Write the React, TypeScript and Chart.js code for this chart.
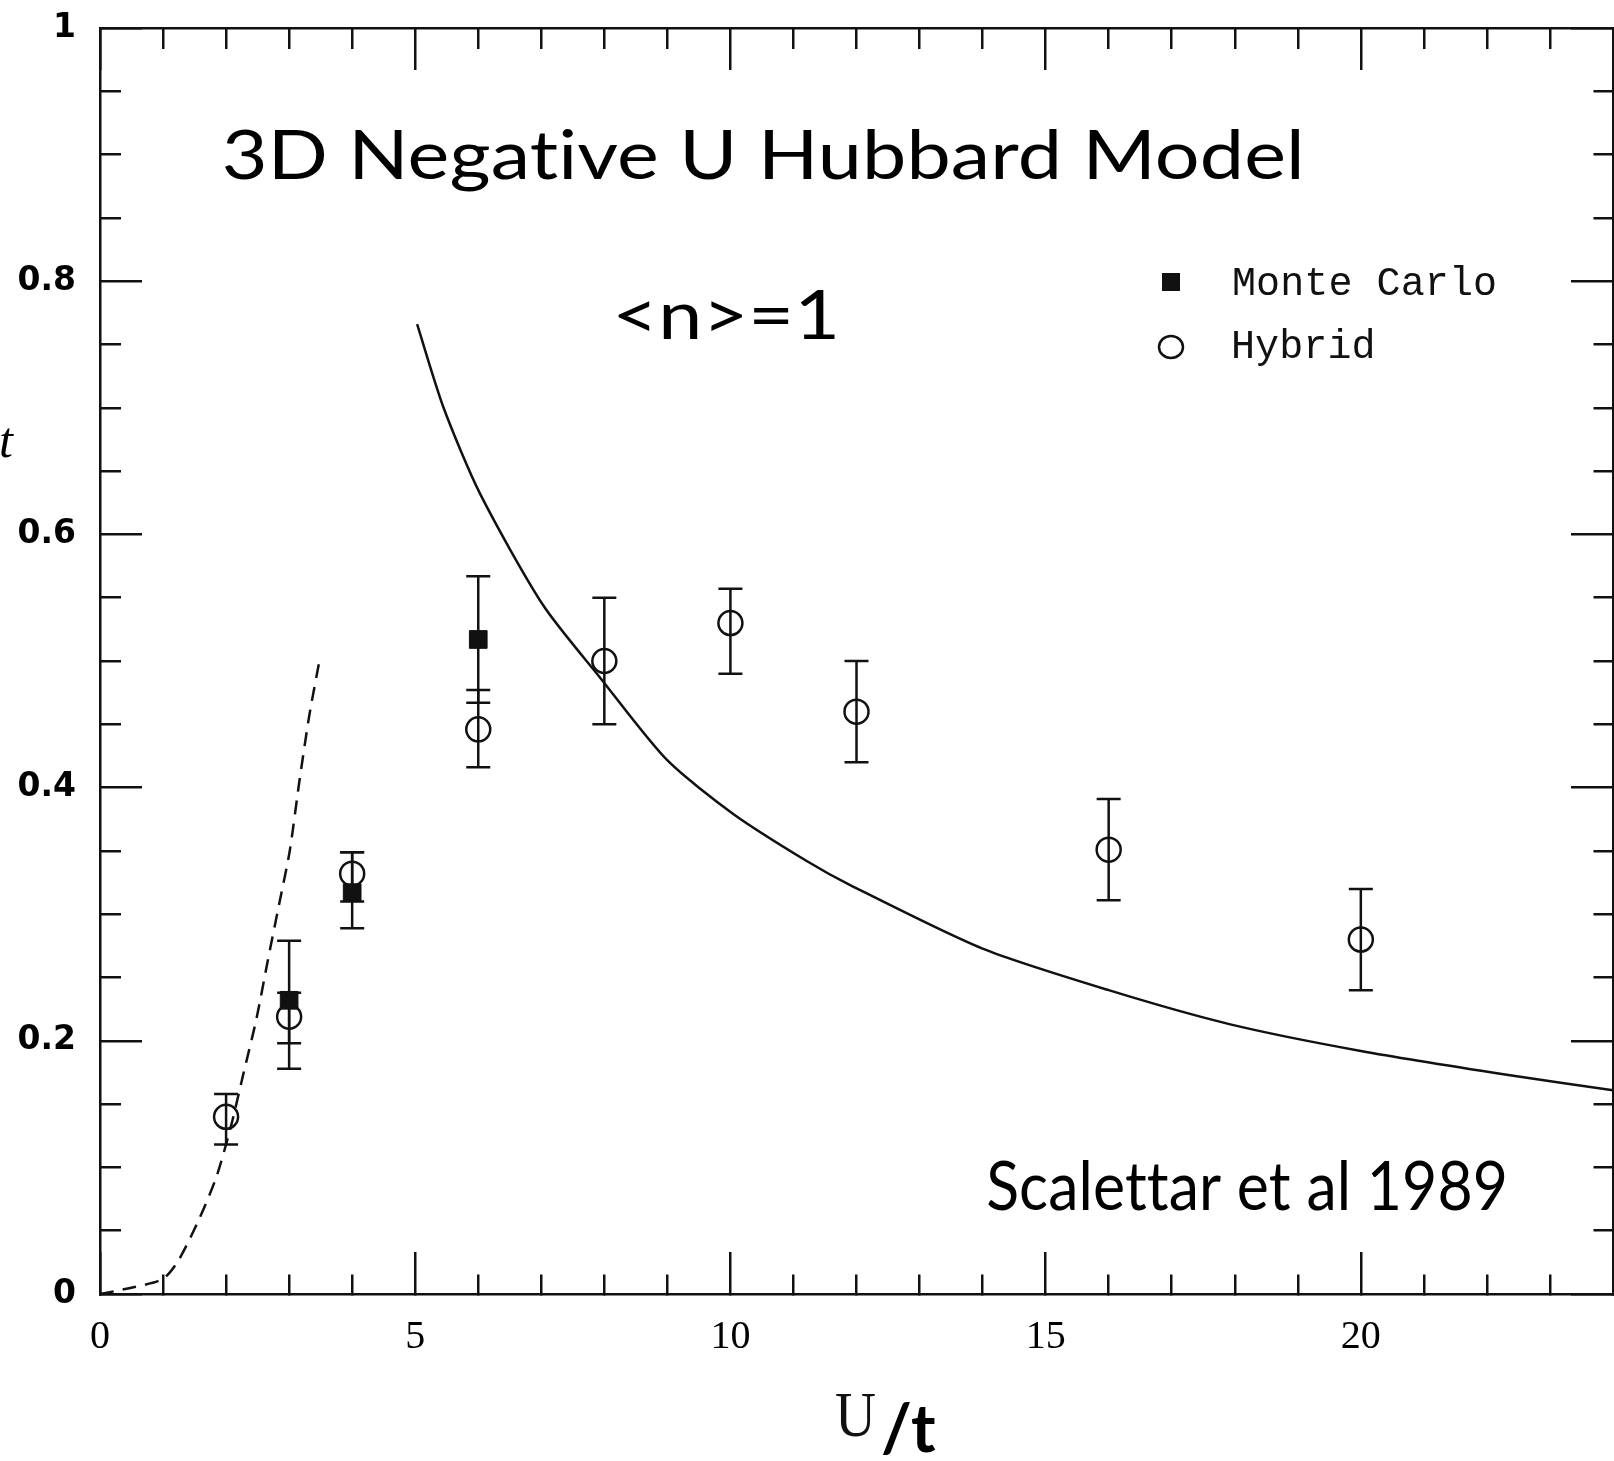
import { useEffect, useRef } from 'react';
import { Chart, registerables } from 'chart.js';

Chart.register(...registerables);

// Axis ranges and tick spacing
const U_MIN = 0;
const U_MAX = 24;
const TC_MIN = 0;
const TC_MAX = 1;
const uMinorStep = 1;
const tcMinorStep = 0.05;
const uTickLabels = [0, 5, 10, 15, 20];
const tcTickLabels = [0, 0.2, 0.4, 0.6, 0.8, 1];
const uMajorTicks = [0, 5, 10, 15, 20];
const tcMajorTicks = [0, 0.2, 0.4, 0.6, 0.8, 1];

// Hybrid simulation: U/t, Tc/t and the two ends of each error bar
const hybridU = [2, 3, 4, 6, 8, 10, 12, 16, 20];
const hybridTc = [0.14, 0.219, 0.332, 0.446, 0.5, 0.53, 0.46, 0.351, 0.28];
const hybridLow = [0.118, 0.178, 0.31, 0.416, 0.45, 0.49, 0.42, 0.311, 0.24];
const hybridHigh = [0.158, 0.238, 0.349, 0.477, 0.55, 0.557, 0.5, 0.391, 0.32];

// Determinant Monte Carlo
const monteCarloU = [3, 4, 6];
const monteCarloTc = [0.232, 0.317, 0.517];
const monteCarloLow = [0.198, 0.289, 0.467];
const monteCarloHigh = [0.279, 0.349, 0.567];

// Strong-coupling estimate (solid)
const strongU = [5.03, 5.45, 6.03, 7.03, 7.93, 8.99, 10.05, 11.21, 11.9, 13.99, 16.0, 17.93, 20.0, 22.34, 24.0];
const strongTc = [0.766, 0.7, 0.632, 0.544, 0.487, 0.422, 0.379, 0.342, 0.323, 0.273, 0.24, 0.213, 0.192, 0.173, 0.161];

// Weak-coupling estimate (dashed)
const weakU = [0, 0.5, 1.0, 1.25, 1.58, 1.85, 2.08, 2.27, 2.48, 2.66, 2.85, 3.01, 3.16, 3.32, 3.48];
const weakTc = [0, 0.005, 0.012, 0.027, 0.06, 0.093, 0.133, 0.173, 0.217, 0.263, 0.31, 0.35, 0.404, 0.457, 0.5];

const INK = '#111';
const MAJOR_LEN = 42;
const MINOR_LEN = 21;
// Ticks point into the plot; minor ticks keep only the part next to the frame.
const dashInnerFirst = [0, MAJOR_LEN - MINOR_LEN, MINOR_LEN, 200];
const dashFrameFirst = [MINOR_LEN, 200];

const near = (list: number[], v: number) => list.some((l) => Math.abs(l - v) < 1e-6);

const toPoints = (xs: number[], ys: number[]) => xs.map((x, i) => ({ x, y: ys[i] }));

const errorBars = {
  id: 'errorBars',
  beforeDatasetsDraw(chart: any) {
    const { ctx } = chart;
    chart.data.datasets.forEach((ds: any, i: number) => {
      if (!ds.errLow) return;
      const meta = chart.getDatasetMeta(i);
      const xs = chart.scales[meta.xAxisID];
      const ys = chart.scales[meta.yAxisID];
      ctx.save();
      ctx.strokeStyle = INK;
      ctx.lineWidth = 2.5;
      ds.data.forEach((p: any, j: number) => {
        const px = xs.getPixelForValue(p.x);
        const lo = ys.getPixelForValue(ds.errLow[j]);
        const hi = ys.getPixelForValue(ds.errHigh[j]);
        ctx.beginPath();
        ctx.moveTo(px, lo);
        ctx.lineTo(px, hi);
        ctx.moveTo(px - 12, lo);
        ctx.lineTo(px + 12, lo);
        ctx.moveTo(px - 12, hi);
        ctx.lineTo(px + 12, hi);
        ctx.stroke();
      });
      ctx.restore();
    });
  },
};

function inkText(ctx: CanvasRenderingContext2D, text: string, font: string, left: number, baseline: number, inkWidth?: number) {
  ctx.font = font;
  ctx.textAlign = 'left';
  ctx.textBaseline = 'alphabetic';
  const c = ctx as any;
  c.textRendering = 'optimizeSpeed';
  c.letterSpacing = '0.1px';
  const m = ctx.measureText(text);
  const w = m.actualBoundingBoxLeft + m.actualBoundingBoxRight;
  const s = inkWidth ? inkWidth / w : 1;
  ctx.save();
  ctx.translate(left, baseline);
  ctx.scale(s, 1);
  ctx.fillText(text, m.actualBoundingBoxLeft, 0);
  ctx.restore();
}

const annotations = {
  id: 'annotations',
  afterDraw(chart: any) {
    const ctx: CanvasRenderingContext2D = chart.ctx;
    ctx.save();
    ctx.fillStyle = '#000';
    inkText(ctx, '3D Negative U Hubbard Model', '68px Lato', 224, 179, 1076);
    inkText(ctx, '<n>=1', '68px Lato', 618, 339, 217);
    inkText(ctx, 'Scalettar et al 1989', '68px Lato', 988, 1210, 517);

    // axis titles
    ctx.fillStyle = INK;
    inkText(ctx, 'U', '64px "Liberation Serif"', 836, 1436, 39);
    ctx.fillStyle = '#000';
    inkText(ctx, '/t', 'bold 66px Lato', 882, 1452, 54);
    ctx.font = 'italic 50px "Liberation Serif"';
    ctx.textAlign = 'right';
    const mt = ctx.measureText('t');
    ctx.fillText('t', 14 - mt.actualBoundingBoxRight, 457);

    // legend
    const items = chart.data.datasets.filter((d: any) => d.inLegend);
    items.forEach((d: any, i: number) => {
      const cy = 282 + i * 63;
      ctx.fillStyle = INK;
      ctx.strokeStyle = INK;
      if (d.pointStyle === 'rect') {
        ctx.fillRect(1162, cy - 9, 18, 18);
      } else {
        ctx.lineWidth = 2.5;
        ctx.beginPath();
        ctx.ellipse(1171, cy + 2, 12, 11, 0, 0, Math.PI * 2);
        ctx.stroke();
      }
      inkText(ctx, d.label, '40px "Liberation Mono"', 1234, cy + 13);
    });
    ctx.restore();
  },
};

function frameScale(position: string, isX: boolean, withLabels: boolean) {
  const majors = isX ? uMajorTicks : tcMajorTicks;
  const labels = isX ? uTickLabels : tcTickLabels;
  const innerFirst = position === 'left' || position === 'top';
  return {
    type: 'linear',
    position,
    min: isX ? U_MIN : TC_MIN,
    max: isX ? U_MAX : TC_MAX,
    afterFit: (s: any) => {
      if (isX) s.height = position === 'bottom' ? 167 : 0;
      else s.width = position === 'left' ? 100 : 0;
      // labels sit inside the reserved band, so no extra room is asked of the layout
      s.paddingTop = 0;
      s.paddingBottom = 0;
      s.paddingLeft = 0;
      s.paddingRight = 0;
    },
    border: { display: true, color: INK, width: 2.5 },
    grid: {
      drawOnChartArea: false,
      drawTicks: true,
      tickLength: -MAJOR_LEN,
      lineWidth: 2.5,
      tickWidth: 2.5,
      tickColor: INK,
      tickBorderDash: (c: any) =>
        c.tick && near(majors, c.tick.value) ? [] : innerFirst ? dashInnerFirst : dashFrameFirst,
    },
    ticks: {
      stepSize: isX ? uMinorStep : tcMinorStep,
      autoSkip: false,
      maxRotation: 0,
      minRotation: 0,
      color: '#000',
      padding: isX ? 61 : 66,
      font: isX
        ? { family: 'Liberation Serif', size: 40 }
        : { family: 'DejaVu Sans', size: 33, weight: 'bold' },
      callback: (v: any) => {
        if (!withLabels) return '';
        const n = Number(v);
        return near(labels, n) ? String(Number(n.toFixed(1))) : '';
      },
    },
  };
}

export default function App() {
  const ref = useRef<HTMLCanvasElement>(null);

  useEffect(() => {
    if (!ref.current) return;
    const chart = new Chart(ref.current, {
      type: 'scatter',
      data: {
        datasets: [
          {
            label: 'Strong coupling',
            data: toPoints(strongU, strongTc),
            showLine: true,
            borderColor: INK,
            borderWidth: 2.5,
            pointRadius: 0,
            tension: 0.25,
          },
          {
            label: 'Weak coupling',
            data: toPoints(weakU, weakTc),
            showLine: true,
            borderColor: INK,
            borderWidth: 2.5,
            borderDash: [14, 9],
            pointRadius: 0,
            tension: 0.25,
          },
          {
            label: 'Monte Carlo',
            data: toPoints(monteCarloU, monteCarloTc),
            pointStyle: 'rect',
            pointRadius: 12.5,
            backgroundColor: INK,
            borderColor: INK,
            borderWidth: 1,
            errLow: monteCarloLow,
            errHigh: monteCarloHigh,
            inLegend: true,
          } as any,
          {
            label: 'Hybrid',
            data: toPoints(hybridU, hybridTc),
            pointStyle: 'circle',
            pointRadius: 12,
            backgroundColor: 'rgba(0,0,0,0)',
            borderColor: INK,
            borderWidth: 2.5,
            errLow: hybridLow,
            errHigh: hybridHigh,
            inLegend: true,
          } as any,
        ],
      },
      options: {
        animation: false,
        responsive: false,
        devicePixelRatio: 1,
        layout: { autoPadding: false, padding: { top: 28, right: 1, left: 0, bottom: 0 } },
        plugins: {
          legend: { display: false },
          tooltip: { enabled: false },
        },
        scales: {
          x: frameScale('bottom', true, true),
          x2: frameScale('top', true, false),
          y: frameScale('left', false, true),
          y2: frameScale('right', false, false),
        } as any,
      },
      plugins: [errorBars, annotations],
    });
    return () => chart.destroy();
  }, []);

  return (
    <div style={{ position: 'absolute', left: 0, top: 0, width: 1614, height: 1461, background: '#fff' }}>
      <canvas ref={ref} width={1614} height={1461} style={{ display: 'block' }} />
    </div>
  );
}
